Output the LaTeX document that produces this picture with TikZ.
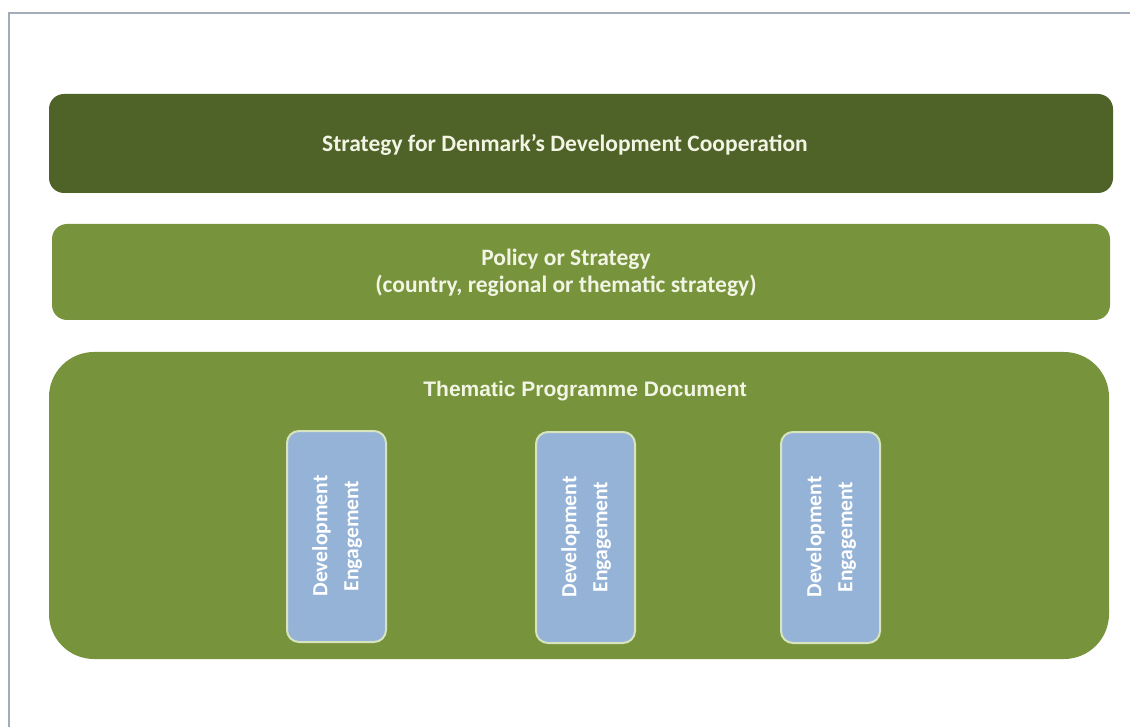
\documentclass[tikz,border=0pt]{standalone}
\usepackage{fontspec}
\setmainfont{Carlito}
\newfontfamily\arialfont{Liberation Sans}
\begin{document}
\begin{tikzpicture}[x=1pt,y=-1pt,
  band/.style={rounded corners=15pt},
  lbl/.style={text=labeltext,font=\bfseries\fontsize{23.5}{27}\selectfont,align=center},
  engbox/.style={draw=engborder,line width=2pt,fill=engfill,rounded corners=12pt},
  englbl/.style={text=white,font=\bfseries\fontsize{21.6}{31}\selectfont,align=center,rotate=90}]
\definecolor{darkolive}{HTML}{4F6228}
\definecolor{olive}{HTML}{77933C}
\definecolor{engfill}{HTML}{95B3D7}
\definecolor{engborder}{HTML}{D7E4BD}
\definecolor{labeltext}{HTML}{F2F4E4}
\definecolor{frameline}{HTML}{A4ACBA}
\useasboundingbox (0,0) rectangle (1130,727);
\fill[white] (0,0) rectangle (1130,727);
% window frame
\draw[frameline,line width=1.5pt] (9,727) -- (9,13) -- (1130,13);
% strategy bands
\fill[darkolive,band] (49,94) rectangle (1113,193);
\node[lbl] (top) at (565,145) {Strategy for Denmark’s Development Cooperation};
\fill[olive,band] (52,224) rectangle (1110,320);
\node[lbl] (policy) at (566,273) {Policy or Strategy\\(country, regional or thematic strategy)};
\fill[olive,rounded corners=45pt] (49,352) rectangle (1109,659);
\node[text=labeltext,font=\arialfont\bfseries\fontsize{21}{25}\selectfont] (prog) at (585,391) {Thematic Programme Document};
% engagements
\draw[engbox] (287,431) rectangle (386,642);
\node[englbl] (e1) at (337,536) {Development\\Engagement};
\draw[engbox] (536,432) rectangle (635,643);
\node[englbl] (e2) at (586,537) {Development\\Engagement};
\draw[engbox] (781,432) rectangle (880,643);
\node[englbl] (e3) at (831,537) {Development\\Engagement};
\end{tikzpicture}
\end{document}
